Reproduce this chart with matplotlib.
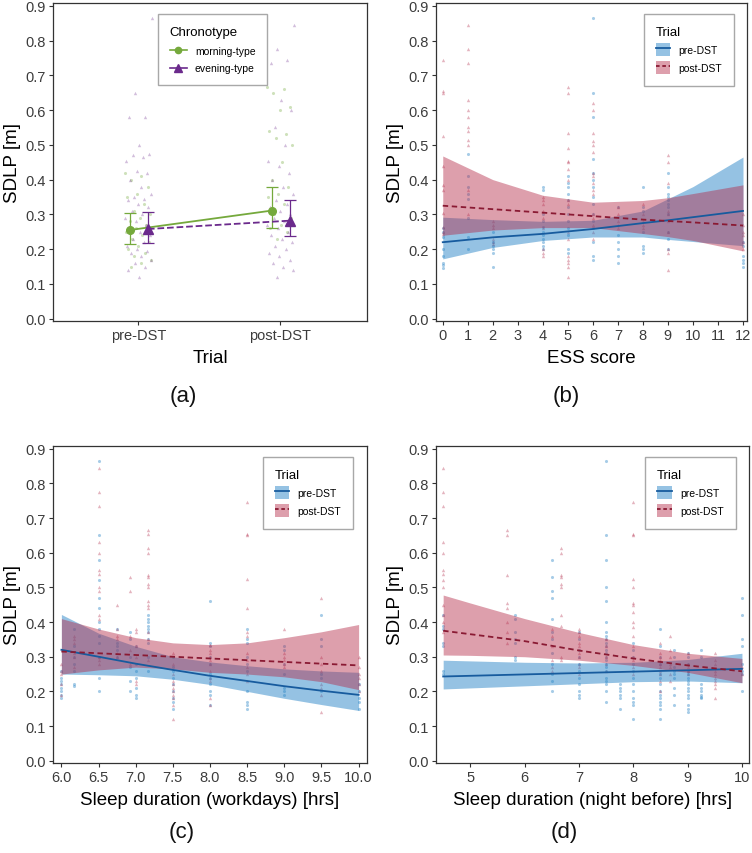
import matplotlib.pyplot as plt
import numpy as np
from matplotlib.lines import Line2D
from matplotlib.patches import Patch

plt.rcParams['font.family'] = ['Liberation Sans', 'DejaVu Sans']

### Panel (a): SDLP by trial and chronotype
trials = ["pre-DST", "post-DST"]
morningPre = [0.42, 0.41, 0.40, 0.38, 0.36, 0.35, 0.33, 0.31, 0.30, 0.29, 0.28, 0.27,
              0.26, 0.25, 0.24, 0.23, 0.22, 0.21, 0.20, 0.19, 0.18, 0.17, 0.16, 0.15]
eveningPre = [0.865, 0.65, 0.58, 0.58, 0.50, 0.475, 0.47, 0.465, 0.455, 0.425, 0.42, 0.40,
              0.38, 0.36, 0.35, 0.345, 0.34, 0.33, 0.32, 0.31, 0.30, 0.29, 0.28, 0.27,
              0.26, 0.25, 0.24, 0.23, 0.22, 0.21, 0.20, 0.195, 0.19, 0.18, 0.17, 0.16,
              0.15, 0.14, 0.12]
morningPost = [0.665, 0.66, 0.65, 0.61, 0.60, 0.54, 0.53, 0.52, 0.50, 0.45, 0.40, 0.38,
               0.36, 0.35, 0.33, 0.30, 0.29, 0.27, 0.26, 0.25, 0.23]
eveningPost = [0.845, 0.775, 0.745, 0.735, 0.63, 0.60, 0.55, 0.50, 0.455, 0.44, 0.42, 0.40,
               0.38, 0.36, 0.34, 0.33, 0.32, 0.31, 0.30, 0.29, 0.28, 0.27, 0.26, 0.25,
               0.24, 0.23, 0.22, 0.21, 0.20, 0.19, 0.18, 0.17, 0.16, 0.15, 0.14, 0.12]
meanMorning = [0.255, 0.311]
lowMorning = [0.216, 0.262]
highMorning = [0.305, 0.380]
meanEvening = [0.258, 0.282]
lowEvening = [0.219, 0.238]
highEvening = [0.306, 0.341]

### Panel (b): ESS score
essX = [0, 1, 2, 4, 5, 6, 7, 8, 9, 12]
essPre = [[0.145, 0.155, 0.16, 0.18, 0.20, 0.235, 0.25, 0.26],
          [0.475, 0.41, 0.38, 0.36, 0.345, 0.29, 0.235, 0.20],
          [0.15, 0.19, 0.20, 0.21, 0.22, 0.25],
          [0.38, 0.37, 0.30, 0.28, 0.265, 0.25, 0.24, 0.23, 0.22, 0.21, 0.20],
          [0.41, 0.39, 0.38, 0.36, 0.34, 0.32, 0.30, 0.28, 0.26, 0.24, 0.20, 0.19],
          [0.865, 0.65, 0.58, 0.46, 0.42, 0.40, 0.38, 0.35, 0.33, 0.30, 0.28, 0.26, 0.22, 0.18, 0.17],
          [0.32, 0.24, 0.22, 0.20, 0.18, 0.16],
          [0.38, 0.32, 0.31, 0.25, 0.21, 0.20, 0.19],
          [0.42, 0.38, 0.36, 0.35, 0.34, 0.33, 0.32, 0.30, 0.25, 0.23, 0.20],
          [0.22, 0.21, 0.18, 0.17, 0.16, 0.15]]
essPost = [[0.745, 0.655, 0.65, 0.525, 0.44, 0.385, 0.37, 0.305, 0.265, 0.25, 0.245],
           [0.845, 0.775, 0.735, 0.63, 0.60, 0.58, 0.55, 0.54, 0.515, 0.50, 0.37, 0.30],
           [0.28, 0.27, 0.26, 0.23, 0.22, 0.215],
           [0.35, 0.34, 0.33, 0.31, 0.29, 0.26, 0.20, 0.19, 0.18],
           [0.665, 0.65, 0.535, 0.49, 0.455, 0.45, 0.43, 0.40, 0.34, 0.33, 0.25, 0.23,
            0.18, 0.17, 0.16, 0.15, 0.12],
           [0.62, 0.60, 0.535, 0.51, 0.50, 0.48, 0.42, 0.41, 0.39, 0.37, 0.36, 0.30,
            0.29, 0.27, 0.25, 0.23],
           [0.32, 0.30, 0.28, 0.27, 0.26],
           [0.33, 0.30, 0.28, 0.27, 0.26],
           [0.47, 0.45, 0.39, 0.31, 0.30, 0.28, 0.25, 0.20, 0.19, 0.14],
           [0.30, 0.27, 0.25, 0.24, 0.22, 0.20]]
essFitX = [0, 2, 4, 6, 8, 9, 10, 12]
essPreFit = [0.220, 0.234, 0.244, 0.258, 0.275, 0.283, 0.292, 0.310]
essPreLow = [0.172, 0.205, 0.225, 0.235, 0.235, 0.228, 0.222, 0.210]
essPreHigh = [0.292, 0.285, 0.280, 0.283, 0.310, 0.345, 0.380, 0.465]
essPostFit = [0.325, 0.315, 0.305, 0.295, 0.285, 0.281, 0.277, 0.268]
essPostLow = [0.240, 0.255, 0.262, 0.262, 0.245, 0.236, 0.225, 0.195]
essPostHigh = [0.468, 0.400, 0.355, 0.335, 0.340, 0.348, 0.360, 0.385]

### Panel (c): sleep duration on workdays
workX = [6.0, 6.17, 6.5, 6.75, 6.92, 7.0, 7.17, 7.5, 8.0, 8.5, 9.0, 9.5, 10.0]
workPre = [[0.26, 0.24, 0.23, 0.22, 0.21, 0.20, 0.19, 0.18],
           [0.38, 0.33, 0.30, 0.28, 0.26, 0.22, 0.215],
           [0.865, 0.65, 0.58, 0.52, 0.47, 0.44, 0.40, 0.38, 0.36, 0.34, 0.30, 0.24, 0.20],
           [0.38, 0.34, 0.33, 0.32, 0.30],
           [0.37, 0.35, 0.30, 0.27, 0.23, 0.20],
           [0.33, 0.28, 0.26, 0.24, 0.21, 0.19, 0.18],
           [0.42, 0.41, 0.40, 0.39, 0.38, 0.37, 0.35, 0.34, 0.30, 0.26],
           [0.30, 0.27, 0.26, 0.24, 0.22, 0.20, 0.18, 0.17, 0.15],
           [0.46, 0.34, 0.33, 0.30, 0.28, 0.25, 0.24, 0.22, 0.20, 0.19, 0.16],
           [0.38, 0.35, 0.34, 0.30, 0.28, 0.26, 0.20, 0.17, 0.16, 0.15],
           [0.33, 0.32, 0.28, 0.25, 0.21, 0.20, 0.19],
           [0.42, 0.35, 0.33, 0.25, 0.24, 0.20],
           [0.22, 0.20, 0.18, 0.17, 0.15]]
workPost = [[0.28, 0.26, 0.25, 0.22, 0.19],
            [0.36, 0.35, 0.34, 0.31, 0.30, 0.27],
            [0.845, 0.775, 0.735, 0.63, 0.60, 0.55, 0.54, 0.50, 0.49, 0.42, 0.41, 0.30, 0.29, 0.28],
            [0.45, 0.38, 0.36, 0.35, 0.31, 0.30],
            [0.53, 0.49, 0.36, 0.32, 0.28],
            [0.38, 0.37, 0.33, 0.30, 0.23, 0.22],
            [0.665, 0.655, 0.615, 0.60, 0.535, 0.53, 0.51, 0.50, 0.46, 0.45, 0.44, 0.37, 0.35, 0.29],
            [0.31, 0.28, 0.25, 0.23, 0.22, 0.21, 0.20, 0.19, 0.18, 0.16, 0.12],
            [0.335, 0.32, 0.31, 0.30, 0.29, 0.28, 0.26, 0.24, 0.23, 0.18, 0.16],
            [0.745, 0.655, 0.65, 0.525, 0.44, 0.37, 0.36, 0.31, 0.29, 0.27, 0.25, 0.23],
            [0.38, 0.31, 0.30, 0.29, 0.28, 0.27],
            [0.47, 0.30, 0.28, 0.26, 0.22, 0.21, 0.19, 0.14],
            [0.30, 0.27, 0.25, 0.24, 0.22, 0.20]]
workFitX = [6.0, 6.5, 7.0, 7.5, 8.0, 8.5, 9.0, 9.5, 10.0]
workPreFit = [0.320, 0.300, 0.280, 0.262, 0.245, 0.230, 0.215, 0.202, 0.190]
workPreLow = [0.250, 0.248, 0.245, 0.235, 0.220, 0.200, 0.180, 0.162, 0.145]
workPreHigh = [0.422, 0.368, 0.330, 0.300, 0.285, 0.274, 0.265, 0.259, 0.255]
workPostFit = [0.315, 0.310, 0.305, 0.300, 0.295, 0.290, 0.285, 0.280, 0.275]
workPostLow = [0.250, 0.262, 0.270, 0.265, 0.255, 0.250, 0.242, 0.228, 0.205]
workPostHigh = [0.410, 0.380, 0.355, 0.340, 0.335, 0.340, 0.355, 0.372, 0.393]

### Panel (d): sleep duration the night before
nightX = [4.5, 5.67, 5.83, 6.5, 6.67, 7.0, 7.5, 7.75, 8.0, 8.5, 8.67, 8.75, 9.0, 9.25, 9.5, 10.0]
nightPre = [[0.42, 0.39, 0.38, 0.34, 0.33, 0.26, 0.25],
            [],
            [0.42, 0.41, 0.37, 0.35, 0.34, 0.30, 0.29],
            [0.58, 0.53, 0.49, 0.47, 0.41, 0.37, 0.35, 0.31, 0.28, 0.25, 0.23, 0.20],
            [],
            [0.37, 0.35, 0.32, 0.30, 0.28, 0.26, 0.24, 0.22, 0.20, 0.19, 0.18],
            [0.865, 0.65, 0.58, 0.50, 0.46, 0.40, 0.37, 0.36, 0.35, 0.34, 0.33, 0.32, 0.31,
             0.30, 0.29, 0.28, 0.27, 0.26, 0.24, 0.23, 0.22, 0.20, 0.17],
            [0.22, 0.21, 0.20, 0.19, 0.18, 0.15],
            [0.34, 0.32, 0.30, 0.28, 0.26, 0.24, 0.22, 0.20, 0.18, 0.17, 0.16, 0.12],
            [0.38, 0.33, 0.30, 0.28, 0.25, 0.24, 0.22, 0.20, 0.19, 0.18, 0.17, 0.16, 0.15, 0.12],
            [],
            [0.32, 0.30, 0.27, 0.26, 0.25, 0.24, 0.21, 0.19, 0.16],
            [0.31, 0.30, 0.28, 0.26, 0.25, 0.24, 0.23, 0.22, 0.21, 0.20, 0.19, 0.18, 0.16, 0.15, 0.14],
            [0.32, 0.30, 0.22, 0.21, 0.20, 0.19, 0.185, 0.18],
            [],
            [0.47, 0.42, 0.35, 0.33, 0.28, 0.26, 0.25, 0.20]]
nightPost = [[0.845, 0.775, 0.735, 0.63, 0.60, 0.55, 0.54, 0.52, 0.50, 0.45, 0.42, 0.40, 0.37],
             [0.665, 0.65, 0.535, 0.455, 0.44, 0.40, 0.37, 0.34],
             [],
             [0.38, 0.36, 0.33, 0.29, 0.27, 0.26],
             [0.615, 0.60, 0.535, 0.53, 0.51, 0.50, 0.42, 0.39, 0.30, 0.29],
             [0.38, 0.37, 0.36, 0.34, 0.33, 0.31, 0.30, 0.28, 0.27, 0.25],
             [0.35, 0.33, 0.30, 0.28, 0.26],
             [],
             [0.745, 0.655, 0.65, 0.525, 0.50, 0.455, 0.45, 0.43, 0.40, 0.385, 0.36, 0.33,
              0.30, 0.29, 0.27, 0.25],
             [0.34, 0.31, 0.30, 0.29, 0.28, 0.27, 0.26, 0.25, 0.23, 0.20],
             [0.36, 0.32, 0.30, 0.28, 0.27, 0.25, 0.23],
             [],
             [0.31, 0.28, 0.27, 0.26, 0.25],
             [],
             [0.31, 0.29, 0.28, 0.26, 0.25, 0.24, 0.23, 0.22, 0.21, 0.18],
             [0.27, 0.25]]
nightFitX = [4.5, 5.0, 6.0, 7.0, 8.0, 9.0, 10.0]
nightPreFit = [0.243, 0.245, 0.249, 0.253, 0.257, 0.261, 0.265]
nightPreLow = [0.207, 0.210, 0.216, 0.222, 0.228, 0.230, 0.225]
nightPreHigh = [0.290, 0.288, 0.284, 0.282, 0.284, 0.292, 0.310]
nightPostFit = [0.375, 0.365, 0.345, 0.318, 0.295, 0.275, 0.258]
nightPostLow = [0.305, 0.304, 0.300, 0.290, 0.275, 0.255, 0.225]
nightPostHigh = [0.478, 0.455, 0.410, 0.370, 0.335, 0.310, 0.295]

# colours
preCol = "#2381c5"
postCol = "#b42a48"
preLine = "#175b9e"
postLine = "#8a1a33"
greenCol = "#75a93c"
purpleCol = "#6b2a8c"
axisCol = "#333333"

W, H = 752, 854
fig = plt.figure(figsize=(W / 100, H / 100), dpi=100)


def styleAxes(ax):
    for s in ax.spines.values():
        s.set_color(axisCol)
        s.set_linewidth(0.9)
    ax.tick_params(length=3, width=0.8, color=axisCol, labelcolor="#3c3c3c",
                   labelsize=10.5, pad=2)
    ax.set_ylim(-0.0066, 0.908)
    ax.set_yticks(np.arange(0, 0.91, 0.1))
    ax.set_yticklabels(["%.1f" % v for v in np.arange(0, 0.91, 0.1)])
    ax.set_ylabel("SDLP [m]", fontsize=13.5, labelpad=3)


def jitter(n, width):
    # spread points sideways like geom_jitter, but deterministic
    return ((np.arange(n) * 0.618034) % 1.0 - 0.5) * 2 * width


# ---------- (a)
axA = fig.add_axes([53 / W, (H - 322) / H, 314 / W, 318 / H])
for i, (mo, ev) in enumerate([(morningPre, eveningPre), (morningPost, eveningPost)]):
    cx = i + 1
    axA.scatter(cx + jitter(len(mo), 0.095), mo, s=5, marker="o", color=greenCol,
                alpha=0.35, linewidths=0)
    axA.scatter(cx - jitter(len(ev), 0.095), ev, s=6, marker="^", color=purpleCol,
                alpha=0.3, linewidths=0)

xm = np.array([1, 2]) - 0.06
xe = np.array([1, 2]) + 0.068
axA.errorbar(xm, meanMorning,
             yerr=[np.array(meanMorning) - np.array(lowMorning), np.array(highMorning) - np.array(meanMorning)],
             fmt="none", ecolor=greenCol, elinewidth=0.9, capsize=4.5, capthick=0.9)
axA.errorbar(xe, meanEvening,
             yerr=[np.array(meanEvening) - np.array(lowEvening), np.array(highEvening) - np.array(meanEvening)],
             fmt="none", ecolor=purpleCol, elinewidth=0.9, capsize=4.5, capthick=0.9)
axA.plot(xm, meanMorning, "-o", color=greenCol, lw=1.3, ms=5.5)
axA.plot(xe, meanEvening, "--^", color=purpleCol, lw=1.3, ms=6.5)
axA.set_xlim(0.40, 2.61)
axA.set_xticks([1, 2])
axA.set_xticklabels(trials)
styleAxes(axA)
axA.set_xlabel("Trial", fontsize=13.5, labelpad=5)
legA = axA.legend(handles=[Line2D([], [], color=greenCol, marker="o", ms=4.5, lw=1.2),
                           Line2D([], [], color=purpleCol, marker="^", ms=5.5, lw=1.2)],
                  labels=["morning-type", "evening-type"], title="Chronotype",
                  loc="upper left", bbox_to_anchor=(0.334, 0.966), borderaxespad=0,
                  fontsize=7.5, title_fontsize=9.5, alignment="left", fancybox=False,
                  edgecolor="#a8a8a8", handlelength=1.6, borderpad=1.15, labelspacing=0.75,
                  framealpha=1)
legA.get_frame().set_linewidth(1.0)


# ---------- (b), (c), (d)
def drawPanel(rect, xs, preCols, postCols, fitX, preFit, preLow, preHigh,
              postFit, postLow, postHigh, xlim, xticks, xticklabels, xlabel):
    ax = fig.add_axes(rect)
    for x, pre, post in zip(xs, preCols, postCols):
        ax.scatter([x] * len(pre), pre, s=5, marker="o", color=preCol, alpha=0.4, linewidths=0)
        ax.scatter([x] * len(post), post, s=6, marker="^", color=postCol, alpha=0.35, linewidths=0)
    ax.fill_between(fitX, preLow, preHigh, color=preCol, alpha=0.48, linewidth=0)
    ax.fill_between(fitX, postLow, postHigh, color=postCol, alpha=0.45, linewidth=0)
    ax.plot(fitX, preFit, "-", color=preLine, lw=1.3)
    ax.plot(fitX, postFit, "--", color=postLine, lw=1.3, dashes=(3, 2))
    ax.set_xlim(*xlim)
    ax.set_xticks(xticks)
    ax.set_xticklabels(xticklabels)
    styleAxes(ax)
    ax.set_xlabel(xlabel, fontsize=13.5, labelpad=5)
    hPre = (Patch(facecolor=preCol, alpha=0.48, linewidth=0), Line2D([], [], color=preLine, lw=1.3))
    hPost = (Patch(facecolor=postCol, alpha=0.45, linewidth=0),
             Line2D([], [], color=postLine, lw=1.3, ls="--", dashes=(2, 1.5)))
    leg = ax.legend(handles=[hPre, hPost], labels=["pre-DST", "post-DST"], title="Trial",
                    loc="upper left", bbox_to_anchor=(0.668, 0.966), borderaxespad=0,
                    fontsize=7.5, title_fontsize=9.5, alignment="left", fancybox=False,
                    edgecolor="#a8a8a8", handlelength=1.4, handleheight=1.5,
                    borderpad=1.15, labelspacing=0.5, framealpha=1)
    leg.get_frame().set_linewidth(1.0)
    return ax


drawPanel([436 / W, (H - 322) / H, 311 / W, 318 / H], essX, essPre, essPost,
          essFitX, essPreFit, essPreLow, essPreHigh, essPostFit, essPostLow, essPostHigh,
          (-0.27, 12.16), range(0, 13), [str(v) for v in range(0, 13)], "ESS score")

drawPanel([53 / W, (H - 764) / H, 314 / W, 317 / H], workX, workPre, workPost,
          workFitX, workPreFit, workPreLow, workPreHigh, workPostFit, workPostLow, workPostHigh,
          (5.887, 10.113), np.arange(6, 10.01, 0.5), ["%.1f" % v for v in np.arange(6, 10.01, 0.5)],
          "Sleep duration (workdays) [hrs]")

drawPanel([436 / W, (H - 764) / H, 313 / W, 317 / H], nightX, nightPre, nightPost,
          nightFitX, nightPreFit, nightPreLow, nightPreHigh, nightPostFit, nightPostLow, nightPostHigh,
          (4.368, 10.13), range(5, 11), [str(v) for v in range(5, 11)],
          "Sleep duration (night before) [hrs]")

# panel captions
for lab, x, y in [("(a)", 183, 397), ("(b)", 566, 397), ("(c)", 182, 833), ("(d)", 564, 833)]:
    fig.text(x / W, 1 - y / H, lab, ha="center", va="center", fontsize=16, color="#111111")

fig.savefig("out.png", dpi=100, facecolor="white")
